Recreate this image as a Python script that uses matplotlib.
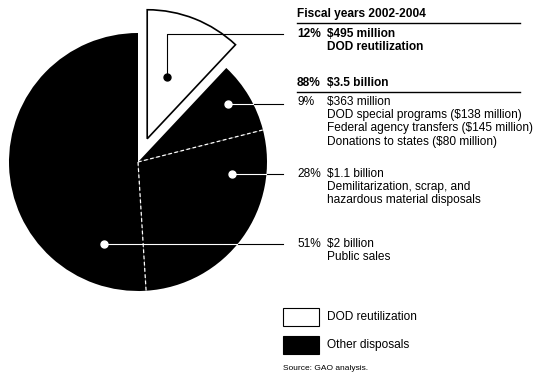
import numpy as np
import matplotlib.pyplot as plt
from matplotlib.patches import Rectangle

plt.rcParams['font.family'] = ['Liberation Sans', 'DejaVu Sans']

# data
shares = [12, 9, 28, 51]
slice_colors = ['white', 'black', 'black', 'black']
pct_labels = ['12%', '9%', '28%', '51%']
amount_labels = ['$495 million', '$363 million', '$1.1 billion', '$2 billion']
detail_labels = [['DOD reutilization'],
                 ['DOD special programs ($138 million)',
                  'Federal agency transfers ($145 million)',
                  'Donations to states ($80 million)'],
                 ['Demilitarization, scrap, and',
                  'hazardous material disposals'],
                 ['Public sales']]
header = 'Fiscal years 2002-2004'
group_pct = '88%'
group_amount = '$3.5 billion'
legend_labels = ['DOD reutilization', 'Other disposals']
source = 'Source: GAO analysis.'

W, H = 540, 389
def Y(p):
    return H - p

fig = plt.figure(figsize=(5.4, 3.89), dpi=100)
ax = fig.add_axes([0, 0, 1, 1])

center = (138, Y(162))
R = 129
wedges, _ = ax.pie(shares, colors=slice_colors, startangle=90, counterclock=False,
                   explode=[25, 0, 0, 0], radius=R, center=center, frame=True,
                   wedgeprops=dict(linewidth=0))
wedges[0].set_edgecolor('black')
wedges[0].set_linewidth(1.2)

# white dashed splits between the dark slices
for w in wedges[1:3]:
    a = np.deg2rad(w.theta1)
    cx, cy = w.center
    ax.plot([cx, cx + w.r * np.cos(a)], [cy, cy + w.r * np.sin(a)],
            color='white', ls=(0, (3, 2)), lw=0.9)

# dot placement (angle, radius) inside each slice, and label line heights
dot_pos = [(72, 65), (33, 107), (-7, 95), (-112.5, 89)]
line_y = [34, 102, 174, 244]
x_end, x_pct, x_txt = 283, 297, 327
fs = 8.6
lh = 13.2

for i, w in enumerate(wedges):
    cx, cy = w.center
    a, r = dot_pos[i]
    dx = cx + r * np.cos(np.deg2rad(a))
    dy = cy + r * np.sin(np.deg2rad(a))
    if i == 0:
        ax.plot([dx, dx, x_end], [dy, Y(line_y[i]), Y(line_y[i])], color='black', lw=0.8)
        ax.plot(dx, dy, 'o', ms=5, color='black')
    else:
        ax.plot([dx, x_end], [dy, dy], color='black', lw=0.8)
        ax.plot([dx, min(x_end, cx + R * np.cos(np.arcsin((dy - cy) / R)))], [dy, dy],
                color='white', lw=0.8)
        ax.plot(dx, dy, 'o', ms=5, color='white')
    bold = 'bold' if i == 0 else 'normal'
    ax.text(x_pct, Y(line_y[i]), pct_labels[i], fontsize=fs, weight=bold, va='center')
    ax.text(x_txt, Y(line_y[i]), amount_labels[i], fontsize=fs, weight=bold, va='center')
    for j, t in enumerate(detail_labels[i]):
        ax.text(x_txt, Y(line_y[i] + lh * (j + 1)), t, fontsize=fs, weight=bold, va='center')

# headers with rules
ax.text(x_pct, Y(14), header, fontsize=fs, weight='bold', va='center')
ax.plot([x_pct, 520], [Y(22.5), Y(22.5)], color='black', lw=1.0)
ax.text(x_pct, Y(83), group_pct, fontsize=fs, weight='bold', va='center')
ax.text(x_txt, Y(83), group_amount, fontsize=fs, weight='bold', va='center')
ax.plot([x_pct, 520], [Y(91.5), Y(91.5)], color='black', lw=1.0)

# legend
for k, (lab, col) in enumerate(zip(legend_labels, ['white', 'black'])):
    top = 308 + k * 28
    ax.add_patch(Rectangle((283, Y(top + 18)), 36, 18, facecolor=col,
                           edgecolor='black', lw=0.8))
    ax.text(327, Y(top + 9), lab, fontsize=fs, va='center')

ax.text(283, Y(368), source, fontsize=6, va='center')

ax.set_xlim(0, W)
ax.set_ylim(0, H)
ax.set_aspect('equal')
ax.axis('off')
fig.savefig('out.png', dpi=100)
